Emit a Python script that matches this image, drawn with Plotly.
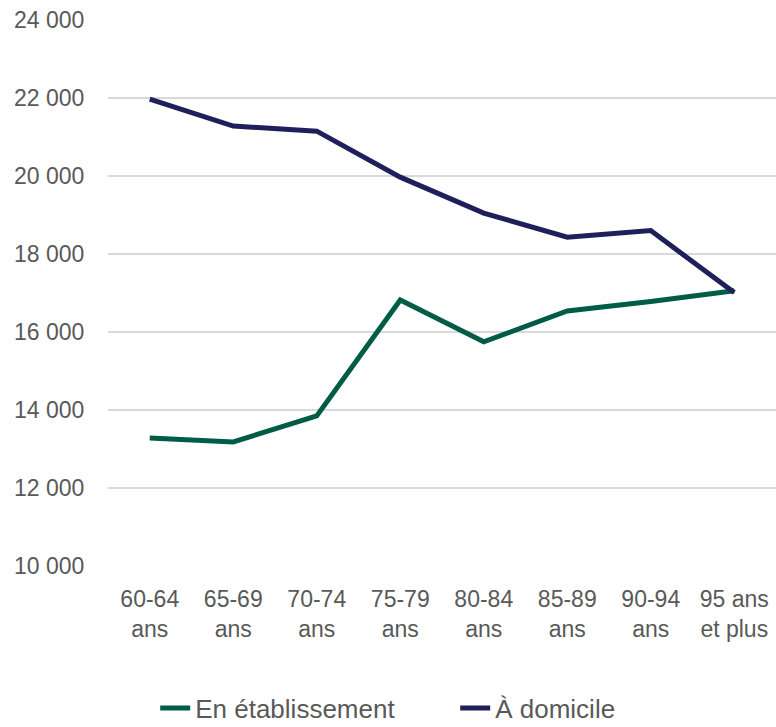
import plotly.graph_objects as go

categories = ["60-64<br>ans", "65-69<br>ans", "70-74<br>ans", "75-79<br>ans",
              "80-84<br>ans", "85-89<br>ans", "90-94<br>ans", "95 ans<br>et plus"]
etablissement = [13280, 13180, 13850, 16820, 15750, 16540, 16780, 17060]
domicile = [21970, 21280, 21150, 19970, 19050, 18430, 18600, 17010]
y_ticks = [10000, 12000, 14000, 16000, 18000, 20000, 22000, 24000]
y_tick_labels = ["10 000", "12 000", "14 000", "16 000", "18 000", "20 000", "22 000", "24 000"]

fig = go.Figure()
fig.add_trace(go.Scatter(x=categories, y=etablissement, mode="lines", name="En établissement",
                         line=dict(color="#005c45", width=5)))
fig.add_trace(go.Scatter(x=categories, y=domicile, mode="lines", name="À domicile",
                         line=dict(color="#1f1f5b", width=5)))

fig.update_layout(
    width=776, height=727,
    margin=dict(l=108, r=0, t=20, b=161, autoexpand=False),
    plot_bgcolor="white", paper_bgcolor="white",
    font=dict(family="Liberation Sans, Arial, sans-serif", size=23, color="#595959"),
    showlegend=True,
    legend=dict(orientation="h", xref="container", x=0.2, xanchor="left",
                yref="container", y=0.026, yanchor="middle",
                font=dict(size=26, color="#595959"), entrywidth=255, entrywidthmode="pixels",
                tracegroupgap=0),
    xaxis=dict(showgrid=False, showline=False, zeroline=False, ticks="outside",
               range=[-0.5, 7.5], automargin=False,
               ticklen=12, tickcolor="white", tickfont=dict(size=23, color="#595959")),
    yaxis=dict(range=[10000, 24000], tickvals=y_ticks, ticktext=y_tick_labels,
               showgrid=True, gridcolor="#d9d9d9", gridwidth=2, zeroline=False, showline=False,
               ticks="outside", ticklen=18, tickcolor="white", automargin=False,
               tickfont=dict(size=23, color="#595959")),
)
fig.write_html("out.html", config={"displayModeBar": False},
               post_script="document.body.style.margin='0';document.body.style.overflow='hidden';")
